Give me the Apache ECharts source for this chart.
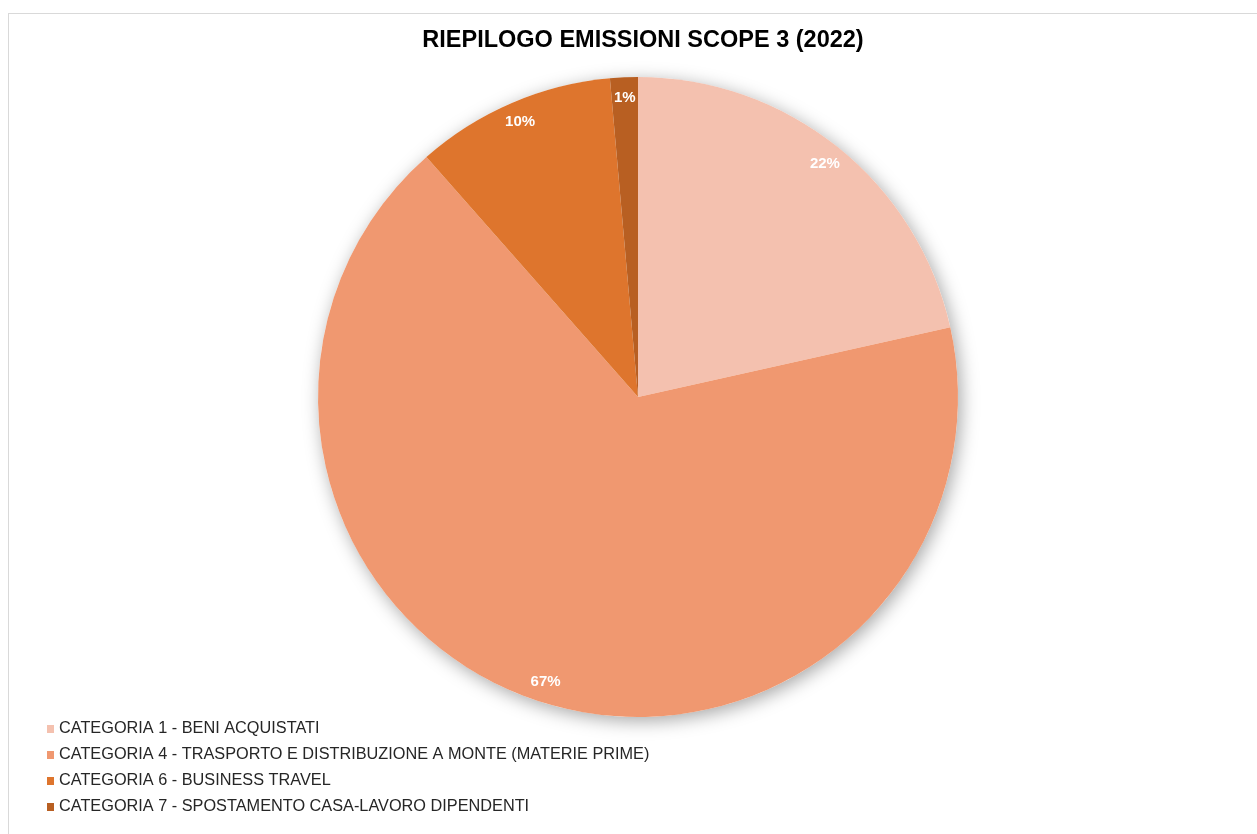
<!DOCTYPE html>
<html>
<head>
<meta charset="utf-8">
<script src="https://cdn.jsdelivr.net/npm/echarts@6/dist/echarts.min.js"></script>
<style>
  html, body { margin: 0; padding: 0; background: #fff; }
  #frame { position: absolute; left: 8px; top: 13px; width: 1300px; height: 900px; border: 1px solid #d9d9d9; box-sizing: border-box; }
  #container { position: absolute; left: 0; top: 0; width: 1257px; height: 834px; }
</style>
</head>
<body>
<div id="frame"></div>
<div id="container"></div>
<script>
// categories and shares
const categories = [
  'CATEGORIA 1 - BENI ACQUISTATI',
  'CATEGORIA 4 - TRASPORTO E DISTRIBUZIONE A MONTE (MATERIE PRIME)',
  'CATEGORIA 6 - BUSINESS TRAVEL',
  'CATEGORIA 7 - SPOSTAMENTO CASA-LAVORO DIPENDENTI'
];
const values = [21.5, 67.0, 10.1, 1.4];
const colors = ['#F4C1AF', '#F09870', '#DE752D', '#B85F22'];

const pieData = categories.map((c, i) => ({ name: c, value: values[i], itemStyle: { color: colors[i] } }));

var chart = echarts.init(document.getElementById('container'));

let option = {
  animation: false,
  title: {
    text: 'RIEPILOGO EMISSIONI SCOPE 3 (2022)',
    left: 638,
    textAlign: 'center',
    top: 24,
    textStyle: { fontFamily: 'Liberation Sans', fontSize: 23.5, fontWeight: 'bold', color: '#000' }
  },
  legend: {
    data: categories,
    orient: 'vertical',
    left: 42,
    top: 716,
    itemWidth: 7,
    itemHeight: 8,
    itemGap: 10,
    icon: 'rect',
    textStyle: { fontFamily: 'Liberation Sans', fontSize: 16.3, color: '#262626' },
    selectedMode: false
  },
  series: [
    {
      // shadow under the whole pie
      type: 'pie',
      silent: true,
      center: [638, 397],
      radius: 320,
      z: 1,
      label: { show: false },
      data: [{ name: '_bg', value: 1, itemStyle: { color: '#fff', shadowBlur: 18, shadowColor: 'rgba(0,0,0,0.35)', shadowOffsetX: 3, shadowOffsetY: 4 } }]
    },
    {
      type: 'pie',
      center: [638, 397],
      radius: 320,
      startAngle: 90,
      clockwise: true,
      z: 2,
      label: { show: false },
      labelLine: { show: false },
      data: pieData
    },
    {
      // label ring so percentages sit near the rim
      type: 'pie',
      silent: true,
      center: [638, 397],
      radius: [272, 320],
      startAngle: 90,
      clockwise: true,
      z: 3,
      itemStyle: { color: 'rgba(0,0,0,0)' },
      label: {
        show: true,
        position: 'inside',
        formatter: (p) => Math.round(p.value) + '%',
        color: '#fff',
        fontFamily: 'Liberation Sans',
        fontWeight: 'bold',
        fontSize: 15
      },
      labelLine: { show: false },
      data: categories.map((c, i) => ({ name: c, value: values[i] }))
    }
  ]
};

chart.setOption(option);
</script>
</body>
</html>
